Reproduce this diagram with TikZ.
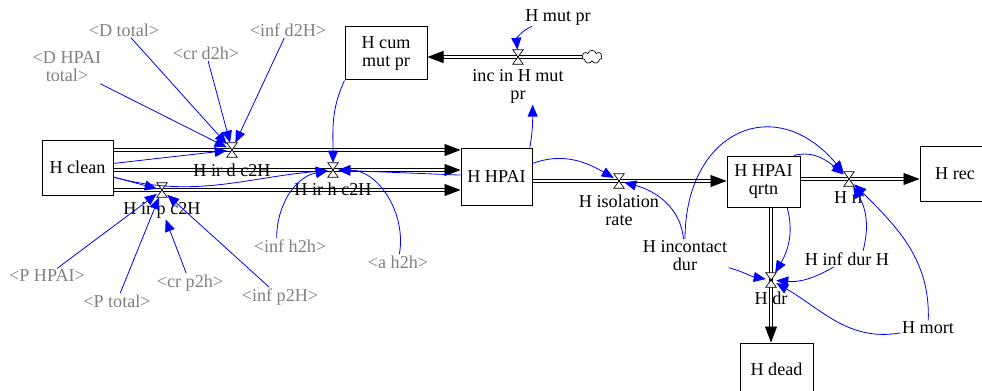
\documentclass[tikz,border=0pt]{standalone}
\usepackage{fontspec}
\setmainfont{Liberation Serif}
\definecolor{lnkblue}{RGB}{0,0,255}
\definecolor{shadowgray}{RGB}{128,128,128}
\usetikzlibrary{arrows.meta,shapes.symbols}

\begin{document}
\begin{tikzpicture}[x=0.75pt, y=0.75pt,
    font=\rmfamily\fontsize{13.6}{13.6}\selectfont,
    stock/.style={rectangle, draw, line width=0.75pt, align=center, inner sep=1pt},
    valve/.style={rectangle, minimum width=7.5pt, minimum height=10.5pt, inner sep=0pt},
    flowlbl/.style={align=center, inner sep=1pt},
    aux/.style={align=center, inner sep=1pt},
    shadow/.style={aux, text=shadowgray},
    pipe/.style={double, double distance=2.2pt, line width=0.6pt, shorten >=11pt},
    pipetip/.style={-{Triangle[length=12pt,width=9pt]}, line width=0.5pt},
    lnk/.style={lnkblue, line width=0.6pt, -{Triangle[length=9pt,width=7.5pt]}}
  ]
  \useasboundingbox (0,0) rectangle (982,390);

  \node[stock, minimum width=53.25pt, minimum height=41.25pt] (hclean) at (77.5,222.5) {H clean};
  \node[stock, minimum width=61.5pt, minimum height=39.75pt] (hcum) at (386,336.5) {H cum\\mut pr};
  \node[stock, minimum width=53.25pt, minimum height=42.75pt] (hhpai) at (496.5,213.5) {H HPAI};
  \node[stock, minimum width=54.75pt, minimum height=38.25pt] (hqrtn) at (763.5,208.5) {H HPAI\\qrtn};
  \node[stock, minimum width=52.5pt, minimum height=41.25pt] (hrec) at (955,216.5) {H rec};
  \node[stock, minimum width=54.75pt, minimum height=39.75pt] (hdead) at (776.5,20.5) {H dead};
  \node[cloud, draw, cloud puffs=7, aspect=1.4, minimum width=15pt, minimum height=10pt,
        inner sep=0pt, line width=0.5pt] (src) at (592,333) {};

  \node[valve] (vird) at (232,240) {};
  \node[valve] (virh) at (333,220) {};
  \node[valve] (virp) at (162,200) {};
  \node[valve] (vinc) at (518,333) {};
  \node[valve] (viso) at (619,209) {};
  \node[valve] (vrr) at (849,211) {};
  \node[valve] (vdr) at (771,110) {};

  \draw[pipe] (hclean.east |- vird) -- (hhpai.west |- vird);
  \draw[pipetip] (hhpai.west |- vird) ++(-12pt,0) -- (hhpai.west |- vird);
  \draw[pipe] (hclean.east |- virh) -- (hhpai.west |- virh);
  \draw[pipetip] (hhpai.west |- virh) ++(-12pt,0) -- (hhpai.west |- virh);
  \draw[pipe] (hclean.east |- virp) -- (hhpai.west |- virp);
  \draw[pipetip] (hhpai.west |- virp) ++(-12pt,0) -- (hhpai.west |- virp);
  \draw[pipe] (src.west |- vinc) -- (hcum.east |- vinc);
  \draw[pipetip] (hcum.east |- vinc) ++(12pt,0) -- (hcum.east |- vinc);
  \draw[pipe] (hhpai.east |- viso) -- (hqrtn.west |- viso);
  \draw[pipetip] (hqrtn.west |- viso) ++(-12pt,0) -- (hqrtn.west |- viso);
  \draw[pipe] (hqrtn.east |- vrr) -- (hrec.west |- vrr);
  \draw[pipetip] (hrec.west |- vrr) ++(-12pt,0) -- (hrec.west |- vrr);
  \draw[pipe] (vdr |- hqrtn.south) -- (vdr |- hdead.north);
  \draw[pipetip] (vdr |- hdead.north) ++(0,12pt) -- (vdr |- hdead.north);

  \foreach \v in {vird,virh,virp,vinc,viso,vrr,vdr}
    \filldraw[fill=white, line width=0.5pt] (\v.north west) -- (\v.north east)
      -- (\v.south west) -- (\v.south east) -- cycle;

  \node[flowlbl] (lird) at (232,220) {H ir d c2H};
  \node[flowlbl] (lirh) at (333,201) {H ir h c2H};
  \node[flowlbl] (lirp) at (162,180) {H ir p c2H};
  \node[flowlbl] (linc) at (518,304) {inc in H mut\\pr};
  \node[flowlbl] (liso) at (619,180) {H isolation\\rate};
  \node[flowlbl] (lrr) at (849,192) {H rr};
  \node[flowlbl] (ldr) at (771,92) {H dr};

  \node[aux] (hmutpr) at (558,373) {H mut pr};
  \node[aux] (incont) at (685,134) {H incontact\\dur};
  \node[aux] (infdur) at (847,131) {H inf dur H};
  \node[aux] (hmort) at (928,62) {H mort};

  \node[shadow] (dtotal) at (124,360) {<D total>};
  \node[shadow] (infd2h) at (288,360) {<inf d2H>};
  \node[shadow] (crd2h) at (206,337) {<cr d2h>};
  \node[shadow] (dhpait) at (67,323) {<D HPAI\\total>};
  \node[shadow] (infh2h) at (290,144) {<inf h2h>};
  \node[shadow] (ah2h) at (398,128) {<a h2h>};
  \node[shadow] (phpai) at (47,114) {<P HPAI>};
  \node[shadow] (ptotal) at (117,89) {<P total>};
  \node[shadow] (crp2h) at (190,107) {<cr p2h>};
  \node[shadow] (infp2h) at (280,93) {<inf p2H>};

  \draw[lnk] (dtotal) -- (vird);
  \draw[lnk] (infd2h) -- (vird);
  \draw[lnk] (crd2h) -- (vird);
  \draw[lnk] (dhpait) -- (vird);
  \draw[lnk] (hclean) -- (vird);
  \draw[lnk] (hclean) to[out=-15,in=185] (virh);
  \draw[lnk] (hclean) -- (virp);
  \draw[lnk] (hcum.south west) to[out=-115,in=90] (virh);
  \draw[lnk] (hhpai) -- (virh);
  \draw[lnk] (ah2h) to[out=80,in=0] (virh);
  \draw[lnk] ([xshift=-10pt]infh2h.north) to[out=90,in=190] (virh);
  \draw[lnk] (phpai) -- (virp);
  \draw[lnk] (ptotal) -- (virp);
  \draw[lnk] (crp2h) -- (lirp);
  \draw[lnk] (infp2h) -- (virp);
  \draw[lnk] (hmutpr) to[out=200,in=95] (vinc);
  \draw[lnk] ([xshift=-2pt]hhpai.north east) to[out=80,in=-90] ([xshift=11pt]linc.south);
  \draw[lnk] (hhpai) to[out=20,in=150] (viso);
  \draw[lnk] (incont) to[out=95,in=-15] (viso);
  \draw[lnk] (incont) to[out=90,in=130,looseness=1.6] (vrr);
  \draw[lnk] ([xshift=-5pt]hqrtn.north east) to[out=15,in=140] (vrr);
  \draw[lnk] ([xshift=-10pt]hqrtn.south east) to[out=-75,in=60] (vdr);
  \draw[lnk] ([xshift=12pt]infdur.north) to[out=75,in=-60] (vrr);
  \draw[lnk] ([xshift=-10pt]infdur.south) to[out=210,in=-5] (vdr);
  \draw[lnk] (hmort) to[out=88,in=-45] (vrr);
  \draw[lnk] (hmort) to[out=190,in=-30] (vdr);
  \draw[lnk] (incont) to[out=-15,in=170] (vdr);
\end{tikzpicture}
\end{document}
